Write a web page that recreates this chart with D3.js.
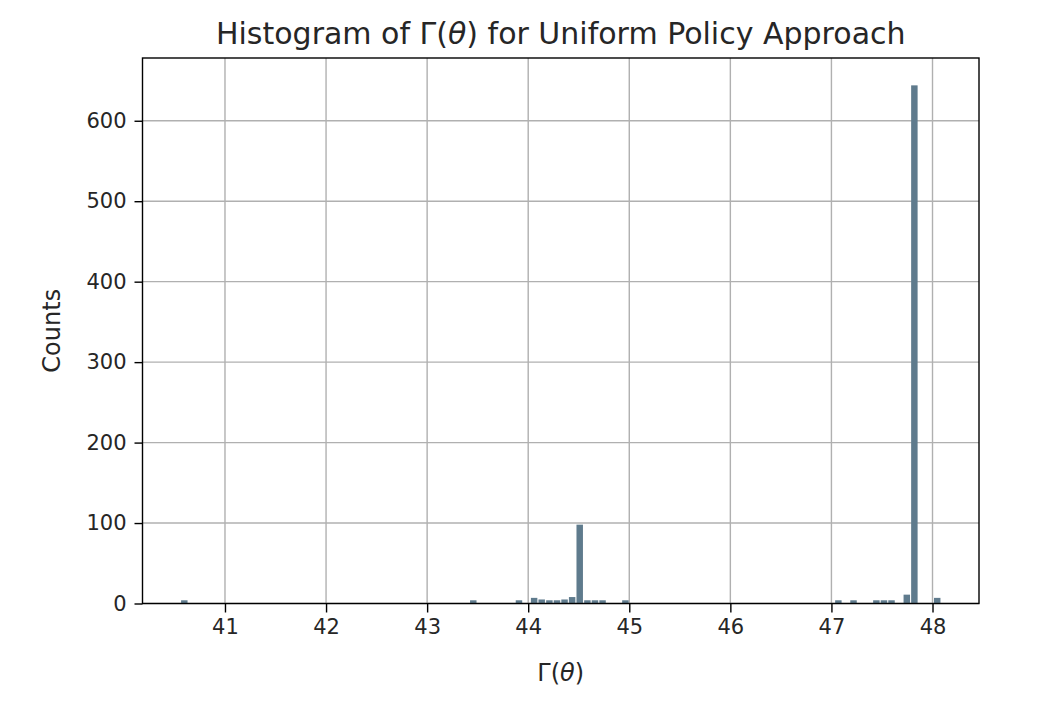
<!DOCTYPE html>
<html>
<head>
<meta charset="utf-8">
<script src="https://cdn.jsdelivr.net/npm/d3@7"></script>
<style>
  html, body { margin: 0; padding: 0; background: #fff; }
  svg { display: block; }
  text { font-family: "DejaVu Sans", sans-serif; fill: #262626; }
</style>
</head>
<body>
<svg id="chart" width="1050" height="720"></svg>
<script>
// ---- data ----
const binWidth = 0.07524;
const binLeft = [40.560, 43.419, 43.871, 44.021, 44.096, 44.172, 44.247, 44.322, 44.397, 44.472,
                 44.548, 44.623, 44.698, 44.924, 47.031, 47.181, 47.407, 47.482, 47.557, 47.708,
                 47.783, 48.009];
const counts  = [4, 4, 4, 7, 5, 4, 4, 5, 8, 98,
                 4, 4, 4, 4, 4, 4, 4, 4, 4, 11,
                 644, 7];
const xTicks = [41, 42, 43, 44, 45, 46, 47, 48];
const yTicks = [0, 100, 200, 300, 400, 500, 600];
const xDomain = [40.184, 48.460];
const yDomain = [0, 678];

// ---- layout ----
const L = 142.5, R = 979, T = 58, B = 603.5;
const svg = d3.select("#chart");
const x = d3.scaleLinear().domain(xDomain).range([L, R]);
const y = d3.scaleLinear().domain(yDomain).range([B, T]);

// grid
const grid = svg.append("g");
grid.selectAll("line.vx").data(xTicks).join("line")
  .attr("x1", d => x(d)).attr("x2", d => x(d)).attr("y1", T).attr("y2", B)
  .attr("stroke", "#b0b0b0").attr("stroke-width", 1.4);
grid.selectAll("line.hy").data(yTicks).join("line")
  .attr("x1", L).attr("x2", R).attr("y1", d => y(d)).attr("y2", d => y(d))
  .attr("stroke", "#b0b0b0").attr("stroke-width", 1.4);

// bars
const rw = 0.85;
svg.append("g").selectAll("rect").data(binLeft.map((b, i) => ({b, c: counts[i]}))).join("rect")
  .attr("x", d => x(d.b + binWidth * (1 - rw) / 2))
  .attr("width", d => x(d.b + binWidth * (1 + rw) / 2) - x(d.b + binWidth * (1 - rw) / 2))
  .attr("y", d => y(d.c))
  .attr("height", d => y(0) - y(d.c))
  .attr("fill", "#5f7b8d");

// axes
const xAxis = svg.append("g").attr("transform", `translate(0,${B})`)
  .call(d3.axisBottom(x).tickValues(xTicks).tickSize(9).tickPadding(7).tickFormat(d3.format("d")));
const yAxis = svg.append("g").attr("transform", `translate(${L},0)`)
  .call(d3.axisLeft(y).tickValues(yTicks).tickSize(8).tickPadding(8).tickFormat(d3.format("d")));
[xAxis, yAxis].forEach(a => {
  a.select(".domain").remove();
  a.selectAll(".tick line").attr("stroke", "#000").attr("stroke-width", 1.4);
  a.selectAll(".tick text").attr("font-size", 21).attr("font-family", "DejaVu Sans").attr("fill", "#262626");
});

// frame
svg.append("rect").attr("x", L).attr("y", T).attr("width", R - L).attr("height", B - T)
  .attr("fill", "none").attr("stroke", "#000").attr("stroke-width", 1.4);

// title
const title = svg.append("text").attr("x", (L + R) / 2).attr("y", 44)
  .attr("text-anchor", "middle").attr("font-size", 30);
title.append("tspan").text("Histogram of Γ(");
title.append("tspan").attr("font-style", "italic").text("θ");
title.append("tspan").text(") for Uniform Policy Approach");

// x label
const xl = svg.append("text").attr("x", (L + R) / 2).attr("y", 681)
  .attr("text-anchor", "middle").attr("font-size", 24);
xl.append("tspan").text("Γ(");
xl.append("tspan").attr("font-style", "italic").text("θ");
xl.append("tspan").text(")");

// y label
svg.append("text").attr("transform", `translate(60,${(T + B) / 2}) rotate(-90)`)
  .attr("text-anchor", "middle").attr("font-size", 24).text("Counts");
</script>
</body>
</html>
